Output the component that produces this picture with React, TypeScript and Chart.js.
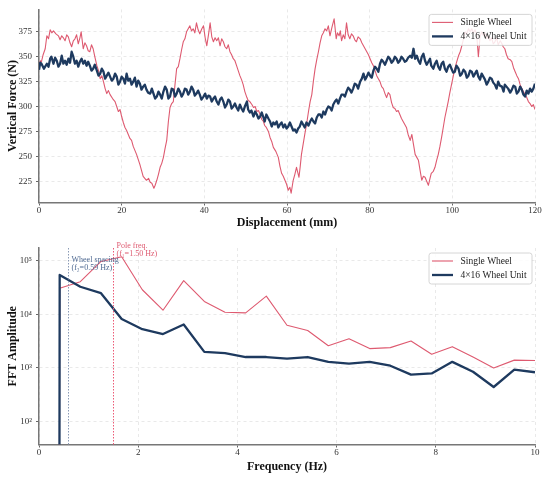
import React, { useEffect, useRef } from 'react';
import { Chart, registerables } from 'chart.js';

Chart.register(...registerables);

const RED = '#de5a70';
const NAVY = '#1e3a5f';
const SLATE = '#4f6a92';
const FONT = "'Liberation Serif', 'Times New Roman', serif";

// ---- Top panel: vertical force vs displacement ----
const singleX = [0, 0.3, 0.6, 1, 1.5, 1.9, 2.3, 2.7, 3.1, 3.5, 4.1, 4.7, 5.1, 5.5, 5.9, 6.3, 6.7, 7.1, 7.5, 7.9, 8.3, 8.7, 9.1, 9.5, 9.9, 10.2, 10.7, 11.1, 11.5, 11.9, 12.3, 12.7, 13.1, 13.5, 14, 14.4, 14.8, 15.2, 15.6, 16, 16.4, 16.8, 17.2, 17.8, 18.4, 18.8, 19.2, 19.6, 20, 20.4, 20.8, 21.2, 21.6, 22, 22.4, 22.8, 23.2, 23.6, 24, 24.4, 24.8, 25.2, 25.6, 26, 26.5, 26.9, 27.3, 27.8, 28.1, 28.5, 28.9, 29.3, 29.7, 30.1, 30.5, 30.9, 31.3, 31.7, 32.1, 32.5, 32.9, 33.3, 33.7, 34.1, 34.5, 34.9, 35.3, 35.7, 36.1, 36.5, 36.9, 37.3, 37.7, 38.1, 38.5, 38.9, 39.4, 39.8, 40.2, 40.6, 41, 41.4, 41.8, 42.2, 42.6, 43, 43.4, 43.8, 44.2, 44.6, 45, 45.4, 45.8, 46.2, 46.6, 47, 47.4, 47.8, 48.2, 48.6, 49, 49.4, 49.8, 50.3, 50.6, 51, 51.5, 51.9, 52.3, 52.7, 53.1, 53.5, 53.9, 54.3, 54.6, 55, 55.5, 55.9, 56.3, 56.7, 57.3, 57.9, 58.3, 58.7, 59.1, 59.5, 59.9, 60.3, 60.7, 61, 61.5, 61.9, 62.3, 62.6, 62.9, 63.2, 63.5, 63.9, 64.3, 64.8, 65.2, 65.6, 66, 66.4, 66.8, 67.2, 67.6, 68, 68.4, 68.8, 69.2, 69.6, 70, 70.4, 70.9, 71.4, 71.9, 72.2, 72.6, 72.9, 73.2, 73.6, 74, 74.4, 74.8, 75.2, 75.6, 76, 76.4, 76.8, 77.2, 77.7, 78.1, 78.5, 78.9, 79.3, 79.7, 80.1, 80.5, 80.9, 81.3, 81.7, 82.1, 82.5, 82.9, 83.3, 83.7, 84.1, 84.5, 84.9, 85.3, 85.7, 86.1, 86.5, 86.9, 87.3, 87.7, 88.1, 88.5, 88.9, 89.3, 89.8, 90.2, 90.6, 91, 91.4, 91.8, 92.2, 92.6, 93, 93.4, 93.8, 94.2, 94.6, 94.9, 95.4, 95.8, 96.2, 96.6, 97, 97.4, 97.8, 98.2, 98.6, 99, 99.4, 99.8, 100.2, 100.6, 101, 101.5, 101.9, 102.3, 102.7, 103.1, 103.5, 103.9, 104.3, 104.7, 105.1, 105.5, 105.9, 106.3, 106.7, 107.1, 107.5, 107.9, 108.3, 108.7, 109.1, 109.5, 109.9, 110.3, 110.7, 111.1, 111.6, 112, 112.3, 112.7, 113.1, 113.5, 114, 114.4, 114.8, 115.2, 115.6, 116, 116.4, 116.8, 117.2, 117.6, 118, 118.4, 118.8, 119.2, 119.6, 120];
const singleForce = [338, 346, 345, 352, 358, 371, 368, 377, 374, 376, 373, 371, 367, 371, 369, 366, 372, 370, 364, 360, 366, 368, 372, 363, 369, 375, 358, 364, 361, 356, 355, 362, 358, 350, 341, 336, 328, 331, 325, 318, 313, 316, 312, 308, 305, 300, 295, 297, 290, 284, 279, 276, 272, 268, 266, 260, 256, 252, 247, 242, 236, 230, 228, 226, 228, 224, 223, 218, 221, 226, 232, 239, 243, 249, 258, 266, 285, 299, 303, 305, 322, 338, 340, 348, 357, 365, 368, 375, 378, 381, 376, 378, 374, 384, 377, 373, 378, 381, 369, 361, 372, 384, 370, 365, 369, 366, 369, 361, 368, 365, 360, 358, 362, 355, 352, 348, 346, 341, 336, 331, 327, 322, 315, 309, 306, 305, 302, 299, 300, 295, 296, 292, 287, 285, 281, 279, 275, 269, 265, 259, 255, 249, 240, 233, 230, 226, 222, 216, 219, 213, 226, 232, 239, 234, 229, 240, 252, 262, 272, 284, 295, 305, 312, 326, 338, 347, 355, 364, 371, 374, 378, 376, 381, 371, 380, 388, 368, 374, 371, 376, 366, 372, 368, 384, 372, 368, 373, 371, 367, 365, 370, 368, 364, 361, 358, 355, 352, 348, 344, 341, 336, 331, 328, 325, 320, 318, 313, 309, 314, 312, 304, 299, 298, 295, 296, 292, 288, 285, 282, 279, 272, 266, 272, 262, 252, 249, 246, 236, 226, 230, 229, 225, 221, 228, 233, 235, 239, 246, 252, 260, 269, 279, 289, 297, 305, 314, 322, 330, 338, 344, 351, 355, 361, 368, 375, 373, 378, 375, 378, 374, 377, 372, 350, 370, 375, 371, 374, 368, 371, 366, 369, 363, 365, 369, 362, 366, 363, 360, 358, 352, 348, 347, 345, 339, 335, 331, 328, 322, 318, 315, 312, 309, 305, 303, 300, 302, 297];

const unitX = [0, 0.3, 0.6, 1.2, 1.9, 2.3, 2.7, 3, 3.5, 3.9, 4.3, 4.7, 5.1, 5.5, 5.9, 6.3, 6.7, 7.1, 7.5, 7.9, 8.3, 8.7, 9.1, 9.5, 9.9, 10.3, 10.7, 11.1, 11.5, 11.9, 12.3, 12.7, 13.1, 13.5, 14, 14.4, 14.8, 15.2, 15.6, 16, 16.4, 16.8, 17.2, 17.6, 18, 18.4, 18.8, 19.2, 19.6, 20, 20.4, 20.8, 21.2, 21.6, 22, 22.4, 22.8, 23.2, 23.6, 24, 24.4, 24.8, 25.2, 25.6, 26, 26.4, 26.9, 27.3, 27.7, 28.1, 28.5, 28.9, 29.3, 29.7, 30.1, 30.5, 30.9, 31.3, 31.7, 32.1, 32.5, 32.9, 33.3, 33.7, 34.1, 34.5, 34.9, 35.3, 35.7, 36.1, 36.5, 36.9, 37.3, 37.7, 38.1, 38.5, 38.9, 39.3, 39.8, 40.2, 40.6, 41, 41.4, 41.8, 42.2, 42.6, 43, 43.4, 43.8, 44.2, 44.6, 45, 45.4, 45.8, 46.2, 46.6, 47, 47.4, 47.8, 48.2, 48.6, 49, 49.4, 49.8, 50.3, 50.6, 51, 51.4, 51.9, 52.3, 52.7, 53.1, 53.5, 53.9, 54.3, 54.6, 55, 55.5, 55.9, 56.3, 56.7, 57.1, 57.5, 57.9, 58.3, 58.7, 59.1, 59.5, 59.9, 60.3, 60.7, 61.1, 61.5, 61.9, 62.3, 62.7, 63.1, 63.5, 63.9, 64.3, 64.7, 65.2, 65.6, 66, 66.4, 66.8, 67.2, 67.6, 68, 68.4, 68.8, 69.2, 69.6, 70, 70.4, 70.8, 71.2, 71.6, 72, 72.4, 72.8, 73.2, 73.6, 74, 74.4, 74.8, 75.2, 75.6, 76, 76.4, 76.8, 77.2, 77.7, 78.1, 78.5, 78.9, 79.3, 79.7, 80.1, 80.5, 80.9, 81.3, 81.7, 82.1, 82.5, 82.9, 83.3, 83.7, 84.1, 84.5, 84.9, 85.3, 85.7, 86.1, 86.5, 86.9, 87.3, 87.7, 88.1, 88.5, 88.9, 89.3, 89.8, 90.2, 90.6, 91, 91.4, 91.8, 92.2, 92.6, 93, 93.4, 93.8, 94.2, 94.6, 94.9, 95.4, 95.8, 96.2, 96.6, 97, 97.4, 97.8, 98.2, 98.6, 99, 99.4, 99.8, 100.2, 100.6, 101, 101.5, 101.9, 102.3, 102.7, 103.1, 103.5, 103.9, 104.3, 104.7, 105.1, 105.5, 105.9, 106.3, 106.7, 107.1, 107.5, 107.9, 108.3, 108.7, 109.1, 109.5, 109.9, 110.3, 110.7, 111.1, 111.5, 112, 112.4, 112.7, 113.1, 113.5, 114, 114.4, 114.8, 115.2, 115.6, 116, 116.4, 116.8, 117.2, 117.6, 118, 118.4, 118.8, 119.2, 119.6, 120];
const unitForce = [337, 344, 343, 338, 343, 340, 348, 350, 343, 349, 346, 340, 343, 351, 343, 346, 342, 348, 344, 355, 350, 343, 346, 340, 345, 348, 343, 346, 341, 345, 341, 336, 338, 342, 336, 331, 333, 338, 335, 328, 331, 334, 330, 326, 328, 333, 330, 322, 325, 330, 328, 323, 333, 326, 328, 322, 325, 329, 320, 326, 323, 317, 320, 322, 317, 314, 313, 318, 313, 308, 310, 315, 312, 308, 315, 320, 317, 308, 310, 318, 317, 310, 313, 318, 315, 310, 313, 318, 317, 312, 315, 320, 317, 311, 313, 316, 312, 307, 310, 313, 308, 311, 310, 305, 308, 310, 305, 302, 307, 309, 305, 299, 302, 307, 305, 298, 300, 303, 299, 296, 302, 298, 295, 300, 305, 297, 294, 296, 290, 295, 292, 288, 290, 294, 289, 285, 292, 288, 285, 280, 284, 282, 285, 279, 282, 284, 279, 282, 278, 280, 284, 280, 276, 277, 274, 278, 280, 285, 282, 279, 284, 281, 285, 288, 285, 283, 289, 292, 292, 289, 295, 292, 297, 300, 299, 296, 302, 305, 307, 303, 308, 312, 312, 310, 315, 319, 317, 314, 318, 323, 322, 318, 325, 328, 333, 327, 330, 334, 331, 329, 336, 340, 338, 335, 343, 347, 345, 342, 346, 350, 348, 344, 346, 350, 348, 344, 346, 350, 348, 345, 346, 349, 351, 349, 358, 348, 351, 346, 343, 350, 353, 346, 342, 345, 348, 341, 338, 343, 346, 340, 337, 343, 345, 338, 335, 340, 342, 338, 334, 335, 341, 338, 331, 333, 337, 335, 329, 331, 336, 335, 330, 333, 336, 330, 327, 333, 330, 327, 322, 325, 329, 328, 324, 322, 318, 325, 321, 320, 315, 322, 320, 318, 314, 317, 321, 320, 313, 315, 320, 317, 312, 310, 316, 313, 318, 315, 318, 323];

const displacementTicks = [0, 20, 40, 60, 80, 100, 120];
const forceTicks = [225, 250, 275, 300, 325, 350, 375];

// ---- Bottom panel: FFT amplitude spectrum ----
const freqHz = [0, 0.417, 0.833, 1.25, 1.667, 2.083, 2.5, 2.917, 3.333, 3.75, 4.167, 4.583, 5.0, 5.417, 5.833, 6.25, 6.667, 7.083, 7.5, 7.917, 8.333, 8.75, 9.167, 9.583, 10.0];
const singleFFT = [1e-300, 31000, 41000, 98000, 120000, 29000, 12000, 43000, 17500, 11000, 10700, 22000, 6300, 5000, 2600, 3500, 2300, 2400, 3200, 1800, 2500, 1600, 1000, 1400, 1380];
const unitFFT = [1e-300, 55000, 33000, 25000, 8200, 5300, 4300, 6500, 2000, 1900, 1600, 1600, 1500, 1600, 1300, 1200, 1300, 1100, 750, 790, 1300, 850, 440, 930, 830];

const frequencyTicks = [0, 2, 4, 6, 8, 10];
const amplitudeTicks = [100, 1000, 10000, 100000];
const wheelSpacingHz = 0.59;
const poleFreqHz = 1.5;

const SUP: Record<string, string> = { '0': '⁰', '1': '¹', '2': '²', '3': '³', '4': '⁴', '5': '⁵', '6': '⁶', '7': '⁷', '8': '⁸', '9': '⁹' };
const sup = (n: number) => String(n).split('').map((c) => SUP[c] || c).join('');

const boxLegend = {
  id: 'boxLegend',
  afterDatasetsDraw(chart: any) {
    const { ctx, chartArea } = chart;
    const w = 103;
    const h = 31;
    const x = chartArea.right - 3 - w;
    const y = chartArea.top + 5;
    ctx.save();
    ctx.beginPath();
    if (ctx.roundRect) ctx.roundRect(x, y, w, h, 2.5);
    else ctx.rect(x, y, w, h);
    ctx.fillStyle = 'rgba(255,255,255,0.85)';
    ctx.fill();
    ctx.strokeStyle = '#cccccc';
    ctx.lineWidth = 0.8;
    ctx.stroke();
    const items = [chart.data.datasets[1], chart.data.datasets[0]];
    ctx.font = `9.5px ${FONT}`;
    ctx.textBaseline = 'middle';
    ctx.textAlign = 'left';
    items.forEach((ds: any, i: number) => {
      const cy = y + 8 + i * 14;
      ctx.beginPath();
      ctx.moveTo(x + 3, cy);
      ctx.lineTo(x + 24, cy);
      ctx.strokeStyle = ds.borderColor;
      ctx.lineWidth = ds.borderWidth;
      ctx.stroke();
      ctx.fillStyle = '#222';
      ctx.fillText(ds.label, x + 31.5, cy + 0.5);
    });
    ctx.restore();
  },
};

const freqMarkers = {
  id: 'freqMarkers',
  afterDatasetsDraw(chart: any) {
    const { ctx, chartArea, scales } = chart;
    const xs = scales.x;
    const xw = Math.round(xs.getPixelForValue(wheelSpacingHz)) + 0.5;
    const xp = Math.round(xs.getPixelForValue(poleFreqHz)) + 0.5;
    ctx.save();
    ctx.lineWidth = 1;
    ctx.setLineDash([1.5, 1.5]);
    ctx.strokeStyle = '#8a9ab5';
    ctx.beginPath();
    ctx.moveTo(xw, chartArea.top);
    ctx.lineTo(xw, chartArea.bottom);
    ctx.stroke();
    ctx.strokeStyle = '#ec5a76';
    ctx.beginPath();
    ctx.moveTo(xp, chartArea.top);
    ctx.lineTo(xp, chartArea.bottom);
    ctx.stroke();
    ctx.setLineDash([]);
    ctx.font = `8px ${FONT}`;
    ctx.textBaseline = 'middle';
    ctx.textAlign = 'left';
    ctx.fillStyle = SLATE;
    ctx.fillText('Wheel spacing', xw + 3, chartArea.top + 12);
    ctx.fillText(`(f₂=${wheelSpacingHz.toFixed(2)} Hz)`, xw + 3, chartArea.top + 20);
    ctx.fillStyle = RED;
    ctx.fillText('Pole freq.', xp + 3, chartArea.top - 2);
    ctx.fillText(`(f₁=${poleFreqHz.toFixed(2)} Hz)`, xp + 3, chartArea.top + 5.5);
    ctx.restore();
  },
};

const tickFont = { family: FONT, size: 9 };
const titleFont = { family: FONT, size: 12, weight: 'bold' as const };
const gridCommon = {
  color: '#e4e4e4',
  lineWidth: 0.8,
  tickColor: '#666',
  tickLength: 3,
  tickWidth: 1,
};
const borderCommon = { display: true, color: '#777', width: 1.5, dash: [3, 3] };

function useChart(ref: React.RefObject<HTMLCanvasElement>, build: (c: HTMLCanvasElement) => Chart) {
  useEffect(() => {
    if (!ref.current) return;
    const chart = build(ref.current);
    return () => chart.destroy();
  }, []);
}

function lineDataset(label: string, color: string, width: number, xs: number[], ys: number[]) {
  return {
    label,
    data: xs.map((x, i) => ({ x, y: ys[i] })),
    borderColor: color,
    borderWidth: width,
    pointRadius: 0,
    tension: 0,
    borderJoinStyle: 'round',
  };
}

export default function App() {
  const topRef = useRef<HTMLCanvasElement>(null);
  const botRef = useRef<HTMLCanvasElement>(null);

  useChart(topRef as any, (canvas) =>
    new Chart(canvas, {
      type: 'line',
      data: {
        datasets: [
          lineDataset('4×16 Wheel Unit', NAVY, 2.3, unitX, unitForce),
          lineDataset('Single Wheel', RED, 1.1, singleX, singleForce),
        ],
      },
      options: {
        responsive: false,
        animation: false,
        events: [],
        layout: { padding: { top: 6, right: 15, left: 0, bottom: 0 } },
        plugins: { legend: { display: false }, tooltip: { enabled: false } },
        scales: {
          x: {
            type: 'linear',
            min: 0,
            max: 120,
            afterBuildTicks: (s: any) => { s.ticks = displacementTicks.map((v) => ({ value: v })); },
            afterFit: (s: any) => { s.height = 32.5; },
            ticks: { font: tickFont, color: '#333', padding: 0, maxRotation: 0 },
            grid: gridCommon,
            border: borderCommon,
            title: { display: true, text: 'Displacement (mm)', font: titleFont, color: '#111', padding: { top: 0, bottom: 5 } },
          },
          y: {
            type: 'linear',
            min: 203.7,
            max: 397.5,
            afterBuildTicks: (s: any) => { s.ticks = forceTicks.map((v) => ({ value: v })); },
            afterFit: (s: any) => { s.width = 39; },
            ticks: { font: tickFont, color: '#333', padding: 4 },
            grid: gridCommon,
            border: borderCommon,
            title: { display: true, text: 'Vertical Force (N)', font: titleFont, color: '#111', padding: { top: 5.5, bottom: 0 } },
          },
        },
      },
      plugins: [boxLegend],
    } as any)
  );

  useChart(botRef as any, (canvas) =>
    new Chart(canvas, {
      type: 'line',
      data: {
        datasets: [
          lineDataset('4×16 Wheel Unit', NAVY, 2.3, freqHz, unitFFT),
          lineDataset('Single Wheel', RED, 1.1, freqHz, singleFFT),
        ],
      },
      options: {
        responsive: false,
        animation: false,
        events: [],
        layout: { padding: { top: 13, right: 15, left: 0, bottom: 0 } },
        plugins: { legend: { display: false }, tooltip: { enabled: false } },
        scales: {
          x: {
            type: 'linear',
            min: 0,
            max: 10,
            afterBuildTicks: (s: any) => { s.ticks = frequencyTicks.map((v) => ({ value: v })); },
            afterFit: (s: any) => { s.height = 34.5; },
            ticks: { font: tickFont, color: '#333', padding: 0, maxRotation: 0 },
            grid: gridCommon,
            border: borderCommon,
            title: { display: true, text: 'Frequency (Hz)', font: titleFont, color: '#111', padding: { top: 0, bottom: 5 } },
          },
          y: {
            type: 'logarithmic',
            min: 37,
            max: 175000,
            afterBuildTicks: (s: any) => { s.ticks = amplitudeTicks.map((v) => ({ value: v })); },
            afterFit: (s: any) => { s.width = 39; },
            ticks: {
              font: tickFont,
              color: '#333',
              padding: 4,
              callback: (v: any) => '10' + sup(Math.round(Math.log10(Number(v)))),
            },
            grid: gridCommon,
            border: borderCommon,
            title: { display: true, text: 'FFT Amplitude', font: titleFont, color: '#111', padding: { top: 5.5, bottom: 0 } },
          },
        },
      },
      plugins: [boxLegend, freqMarkers],
    } as any)
  );

  return (
    <div style={{ position: 'fixed', left: 0, top: 0, width: 550, height: 479, background: '#fff' }}>
      <canvas ref={topRef} width={550} height={235} style={{ position: 'absolute', left: 0, top: 0, display: 'block' }} />
      <canvas ref={botRef} width={550} height={244} style={{ position: 'absolute', left: 0, top: 235, display: 'block' }} />
    </div>
  );
}
